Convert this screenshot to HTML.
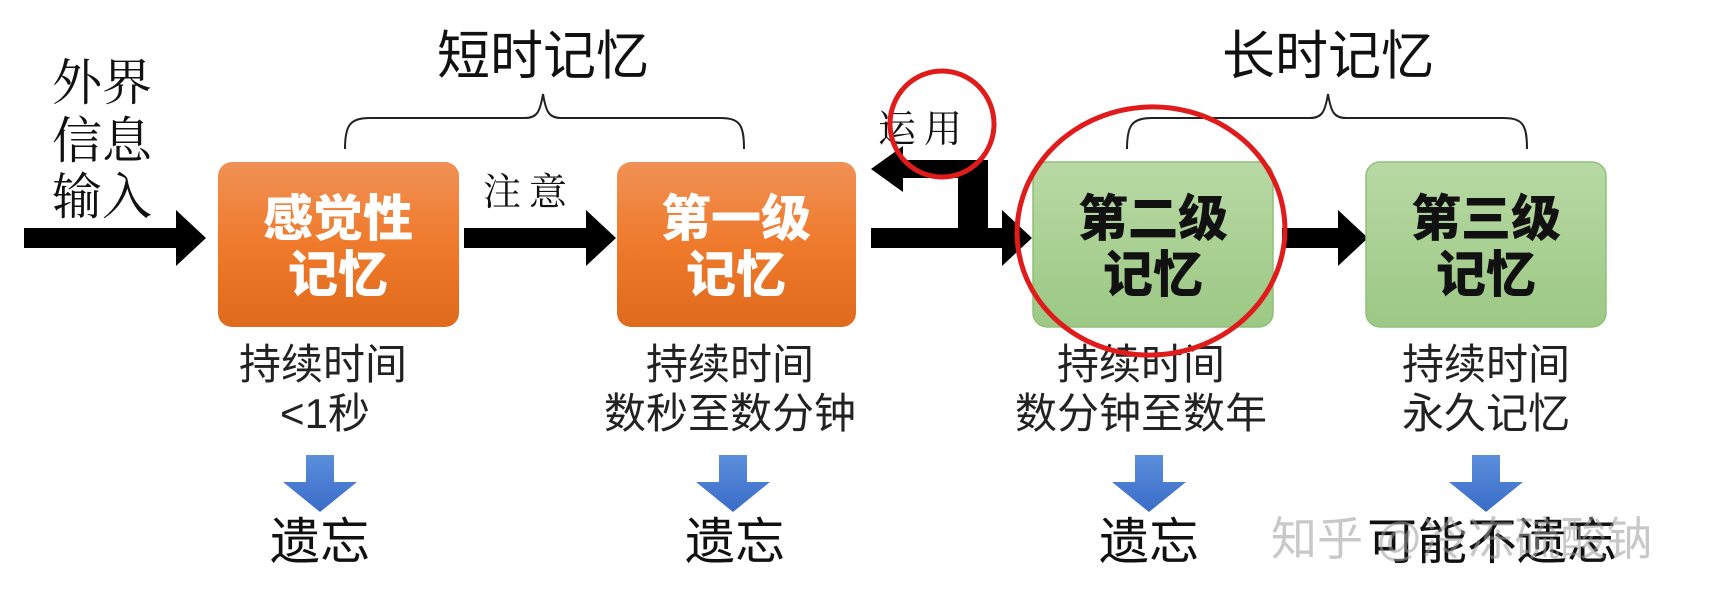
<!DOCTYPE html>
<html><head><meta charset="utf-8"><style>
html,body{margin:0;padding:0;background:#fff;}
svg{display:block;}
.serif{font-family:"Liberation Serif","Noto Serif CJK SC",serif;}
.sans{font-family:"Liberation Sans","Noto Sans CJK SC",sans-serif;}
</style></head><body>
<svg width="1733" height="600" viewBox="0 0 1733 600" xmlns="http://www.w3.org/2000/svg">
<defs>
<linearGradient id="og" x1="0" y1="0" x2="0" y2="1"><stop offset="0" stop-color="#f09155"/><stop offset="0.5" stop-color="#ef7a2c"/><stop offset="1" stop-color="#e06a1c"/></linearGradient>
<linearGradient id="gg" x1="0" y1="0" x2="0" y2="1"><stop offset="0" stop-color="#b8d9a4"/><stop offset="1" stop-color="#9cc884"/></linearGradient>
<linearGradient id="bg" x1="0" y1="0" x2="0" y2="1"><stop offset="0" stop-color="#5b8fdc"/><stop offset="1" stop-color="#3a6cc8"/></linearGradient>
</defs>

<g class="serif" font-size="50" fill="#111">
<text x="52" y="100">外界</text>
<text x="52" y="158">信息</text>
<text x="52" y="214">输入</text>
</g>

<g fill="#000">
<polygon points="24,228 176,228 176,210 206,238 176,266 176,248 24,248"/>
<polygon points="464,228 586,228 586,210 616,238 586,266 586,248 464,248"/>
<polygon points="871,228 1002,228 1002,210 1032,238 1002,266 1002,248 871,248"/>
<polygon points="1282,228 1338,228 1338,210 1368,238 1338,266 1338,248 1282,248"/>
<polygon points="958,238 958,178 903,178 903,192 871,169 903,146 903,160 988,160 988,238"/>
</g>

<rect x="218" y="162" width="241" height="165" rx="14" fill="url(#og)"/>
<rect x="617" y="162" width="239" height="165" rx="14" fill="url(#og)"/>
<rect x="1033" y="162" width="240" height="165" rx="14" fill="url(#gg)" stroke="#8fc079" stroke-width="1.5"/>
<rect x="1366" y="162" width="240" height="165" rx="14" fill="url(#gg)" stroke="#8fc079" stroke-width="1.5"/>

<g class="sans" font-size="50" font-weight="900" text-anchor="middle" style="font-family:'Noto Sans CJK SC Black','Noto Sans CJK SC',sans-serif">
<text x="338" y="236" fill="#fff">感觉性</text>
<text x="338" y="292" fill="#fff">记忆</text>
<text x="736" y="236" fill="#fff">第一级</text>
<text x="736" y="292" fill="#fff">记忆</text>
<text x="1153" y="236" fill="#111">第二级</text>
<text x="1153" y="292" fill="#111">记忆</text>
<text x="1486" y="236" fill="#111">第三级</text>
<text x="1486" y="292" fill="#111">记忆</text>
</g>

<g class="sans" font-size="53" fill="#111" text-anchor="middle">
<text x="543" y="74">短时记忆</text>
<text x="1328" y="74">长时记忆</text>
</g>

<g fill="none" stroke="#222" stroke-width="2">
<path d="M345,149 C345,125 350,118 370,118 L525,118 C537,118 540,112 543,94 C546,112 549,118 561,118 L720,118 C740,118 744,125 744,149"/>
<path d="M1127,149 C1127,125 1132,118 1152,118 L1310,118 C1322,118 1325,112 1328,94 C1331,112 1334,118 1346,118 L1503,118 C1523,118 1527,125 1527,149"/>
</g>

<g class="serif" font-size="38" fill="#111">
<text x="483" y="205" letter-spacing="8">注意</text>
<text x="878" y="142" letter-spacing="8">运用</text>
</g>

<g class="sans" font-size="42" fill="#222" text-anchor="middle">
<text x="323" y="379">持续时间</text>
<text x="325" y="428">&lt;1秒</text>
<text x="730" y="379">持续时间</text>
<text x="730" y="428">数秒至数分钟</text>
<text x="1141" y="379">持续时间</text>
<text x="1141" y="428">数分钟至数年</text>
<text x="1486" y="379">持续时间</text>
<text x="1486" y="428">永久记忆</text>
</g>

<g fill="url(#bg)">
<polygon points="306,455 334,455 334,482 357,482 320,512 283,482 306,482"/>
<polygon points="719,455 747,455 747,482 770,482 733,512 696,482 719,482"/>
<polygon points="1135,455 1163,455 1163,482 1186,482 1149,512 1112,482 1135,482"/>
<polygon points="1472,455 1500,455 1500,482 1523,482 1486,512 1449,482 1472,482"/>
</g>

<g class="sans" font-size="50" fill="#111" text-anchor="middle">
<text x="320" y="559">遗忘</text>
<text x="735" y="559">遗忘</text>
<text x="1149" y="559">遗忘</text>
<text x="1492" y="559">可能不遗忘</text>
</g>
<text x="1271" y="555" class="sans" font-size="46" fill="#9a9a9a" fill-opacity="0.55">知乎 @冷冻硫酸钠</text>

<g fill="none" stroke="#e01b1b" stroke-width="5">
<ellipse cx="942" cy="124" rx="52" ry="53"/>
<ellipse cx="1151" cy="231" rx="134" ry="124" transform="rotate(-5 1151 231)"/>
</g>
</svg>
</body></html>
